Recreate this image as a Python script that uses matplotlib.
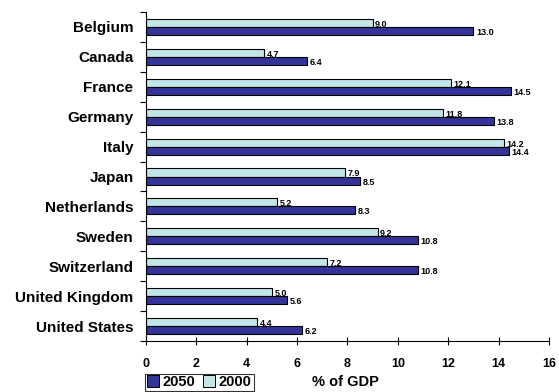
import matplotlib
matplotlib.use("Agg")
import matplotlib.pyplot as plt
import numpy as np
from matplotlib.lines import Line2D

countries = ["Belgium", "Canada", "France", "Germany", "Italy", "Japan",
             "Netherlands", "Sweden", "Switzerland", "United Kingdom", "United States"]
v2000 = [9.0, 4.7, 12.1, 11.8, 14.2, 7.9, 5.2, 9.2, 7.2, 5.0, 4.4]
v2050 = [13.0, 6.4, 14.5, 13.8, 14.4, 8.5, 8.3, 10.8, 10.8, 5.6, 6.2]
xticks = [0, 2, 4, 6, 8, 10, 12, 14, 16]

plt.rcParams['font.family'] = ['Liberation Sans', 'DejaVu Sans']
c_dark = "#333399"
c_light = "#C2E6E8"

fig = plt.figure(figsize=(5.59, 3.92), dpi=100)
ax = fig.add_axes([146/559, 1-341/392, (549-146)/559, (341-12)/392])

n = len(countries)
y = np.arange(n)
h = 0.27
ax.barh(y - h/2, v2000, height=h, color=c_light, edgecolor="black", linewidth=0.8)
ax.barh(y + h/2, v2050, height=h, color=c_dark, edgecolor="black", linewidth=0.8)

lab_font = dict(family=['Liberation Sans Narrow', 'Liberation Sans'], fontsize=6.5,
                fontweight='bold', va='center', ha='left')
for i in range(n):
    ax.text(v2000[i] + 0.1, y[i] - h/2 + 0.05, f"{v2000[i]:.1f}", **lab_font)
    ax.text(v2050[i] + 0.1, y[i] + h/2 + 0.05, f"{v2050[i]:.1f}", **lab_font)

ax.set_ylim(n - 0.5, -0.5)
ax.set_xlim(0, 16)
ax.set_yticks(y)
ax.set_yticklabels(countries, fontsize=11, fontweight='bold')
ax.set_yticks(np.arange(-0.5, n, 1), minor=True)
ax.tick_params(axis='y', which='major', length=0, pad=16 - 7)
ax.tick_params(axis='y', which='minor', length=4, direction='out', width=0.8)
ax.set_xticks(xticks)
ax.set_xticklabels([str(t) for t in xticks], fontsize=9, fontweight='bold')
ax.tick_params(axis='x', direction='inout', length=6, width=0.8, pad=9)
for s in ['top', 'right']:
    ax.spines[s].set_visible(False)
ax.spines['left'].set_linewidth(0.8)
ax.spines['bottom'].set_linewidth(0.8)

fig.text(345/559, 1-382/392, "% of GDP", fontsize=10.5, fontweight='bold', ha='center', va='center')

handles = [Line2D([], [], marker='s', linestyle='none', markerfacecolor=c_dark,
                  markeredgecolor='black', markersize=8, markeredgewidth=0.7),
           Line2D([], [], marker='s', linestyle='none', markerfacecolor=c_light,
                  markeredgecolor='black', markersize=8, markeredgewidth=0.7)]
leg = fig.legend(handles, ["2050", "2000"], loc='lower left',
                 bbox_to_anchor=(145/559, 1-391/392), ncol=2, frameon=True,
                 fancybox=False, edgecolor='black', handlelength=0.9, handletextpad=0.2,
                 columnspacing=0.5, borderpad=0.12, borderaxespad=0,
                 prop=dict(weight='bold', size=10.5))
leg.get_frame().set_linewidth(0.8)

fig.savefig("out.png", dpi=100)
